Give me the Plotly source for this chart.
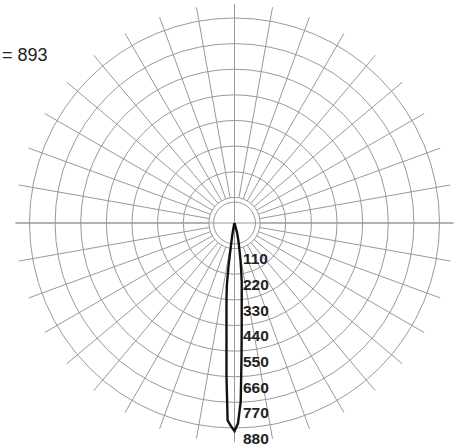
import plotly.graph_objects as go

# Data (intensity vs angle from nadir, degrees)
angles = [1, 2, 3, 4, 5, 6, 7, 8, 9, 10, 12, 15, 20]
left_values = [872, 848, 658, 493, 395, 329, 271, 181, 95, 60, 25, 5, 0]
right_values = [860, 766, 576, 443, 355, 297, 254, 206, 168, 129, 86, 43, 0]
peak_value = 893
ring_values = [110, 220, 330, 440, 550, 660, 770, 880]
ring_labels = ["\u00a0" + str(v) for v in ring_values]
max_label = "= 893"

theta = [-a for a in reversed(angles)] + [0] + angles
r = list(reversed(left_values)) + [peak_value] + right_values

RMAX = 940
GRID = "#999999"

fig = go.Figure()

fig.add_trace(go.Scatterpolar(r=[0], theta=[0], mode="markers",
                              marker=dict(size=1, color="rgba(0,0,0,0)"),
                              subplot="polar", hoverinfo="skip", showlegend=False))

fig.add_trace(go.Scatterpolar(r=r, theta=theta, mode="lines",
                              line=dict(color="#111111", width=2.4),
                              subplot="polar2", showlegend=False))

fig.add_trace(go.Scatterpolar(r=ring_values, theta=[0] * len(ring_values), mode="markers+text",
                              text=ring_labels, textposition="bottom right",
                              marker=dict(size=5, color="rgba(0,0,0,0)"),
                              textfont=dict(family="Liberation Sans, Arial, sans-serif",
                                            size=15.5, color="#222222", weight="bold"),
                              subplot="polar2", hoverinfo="skip", showlegend=False))

cx, cy = 234.5, 223
W, H = 463, 447
R = 219
dom_x = [(cx - R) / W, (cx + R) / W]
dom_y = [(H - cy - R) / H, (H - cy + R) / H]

common_ang = dict(rotation=-90, direction="counterclockwise", showticklabels=False,
                  ticks="", showline=False, gridcolor=GRID, gridwidth=1)

fig.update_layout(
    width=W, height=H,
    margin=dict(l=0, r=0, t=0, b=0),
    paper_bgcolor="white",
    plot_bgcolor="white",
    showlegend=False,
    polar=dict(
        domain=dict(x=dom_x, y=dom_y),
        hole=110 / RMAX,
        bgcolor="white",
        radialaxis=dict(range=[110, RMAX], tickvals=ring_values, showticklabels=False,
                        ticks="", showline=False, gridcolor=GRID, gridwidth=1),
        angularaxis=dict(dtick=10, **common_ang),
    ),
    polar2=dict(
        domain=dict(x=dom_x, y=dom_y),
        bgcolor="rgba(0,0,0,0)",
        radialaxis=dict(range=[0, RMAX], tickvals=[90, 110], showticklabels=False,
                        ticks="", showline=False, gridcolor=GRID, gridwidth=1),
        angularaxis=dict(dtick=90, **common_ang),
    ),
    annotations=[dict(text=max_label, x=0, y=1 - 55 / H, xref="paper", yref="paper",
                      xanchor="left", yanchor="middle", showarrow=False,
                      font=dict(family="Liberation Sans, Arial, sans-serif", size=18,
                                color="#222222"))],
)

fig.write_html("out.html", config={"displayModeBar": False},
               post_script="document.body.style.margin='0px';")
